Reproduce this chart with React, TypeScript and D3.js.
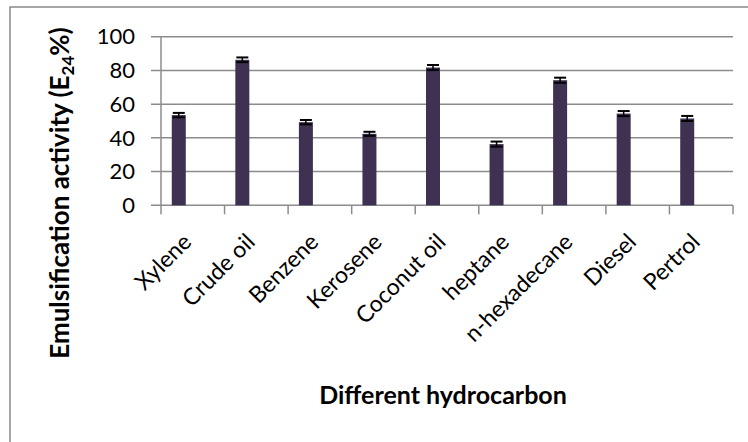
import React from "react";
import * as d3 from "d3";

const categories = ["Xylene", "Crude oil", "Benzene", "Kerosene", "Coconut oil", "heptane", "n-hexadecane", "Diesel", "Pertrol"];
const values = [53.5, 86.3, 49.3, 42.4, 81.7, 36.3, 74.2, 54.4, 51.5];
const errors = [1.3, 1.4, 1.3, 1.2, 1.5, 1.5, 1.5, 1.5, 1.5];
const seriesSlots = ["E24", "slot2", "slot3"];
const yTicks = [0, 20, 40, 60, 80, 100];

const W = 748;
const H = 442;
const FONT = "Lato, 'Open Sans', sans-serif";

export default function App() {
  const x0 = 161, x1 = 733, yTop = 36.7, yBot = 205.3;
  const x = d3.scaleBand<string>().domain(categories).range([x0, x1]).padding(0);
  const inner = d3.scaleBand<string>().domain(seriesSlots).range([0, x.bandwidth()]).paddingInner(0).paddingOuter(0.77);
  const y = d3.scaleLinear().domain([0, 100]).range([yBot, yTop]);
  const grid = "#8c8c8c";
  const barColor = "#3f3151";
  const capW = 12;
  const bounds = categories.map((c) => x(c) as number).concat([x1]);

  return (
    <svg width={W} height={H} style={{ position: "absolute", left: 0, top: 0, background: "#fff" }}>
      <rect x={0} y={0} width={W} height={H} fill="#fff" />
      <rect x={10} y={7} width={800} height={500} fill="none" stroke="#898989" strokeWidth={1.5} />
      {yTicks.map((t) => (
        <g key={t}>
          <line x1={x0 - 10} x2={x1} y1={y(t)} y2={y(t)} stroke={grid} strokeWidth={1.5} />
          <text x={135} y={y(t)} dy="0.35em" textAnchor="end" fontFamily={FONT} fontSize={22} fill="#000">
            {t}
          </text>
        </g>
      ))}
      <line x1={x0} x2={x0} y1={yTop} y2={yBot} stroke={grid} strokeWidth={1.5} />
      {bounds.map((b, i) => (
        <line key={i} x1={b} x2={b} y1={yBot} y2={yBot + 9} stroke={grid} strokeWidth={1.5} />
      ))}
      {categories.map((c, i) => {
        const bx = (x(c) as number) + (inner(seriesSlots[0]) as number);
        const bw = inner.bandwidth();
        const cx = bx + bw / 2;
        const v = values[i];
        const e = errors[i];
        return (
          <g key={c}>
            <rect x={bx} y={y(v)} width={bw} height={y(0) - y(v)} fill={barColor} />
            <line x1={cx} x2={cx} y1={y(v + e)} y2={y(v - e)} stroke="#000" strokeWidth={1.5} />
            <line x1={cx - capW / 2} x2={cx + capW / 2} y1={y(v + e)} y2={y(v + e)} stroke="#000" strokeWidth={2} />
            <line x1={cx - capW / 2} x2={cx + capW / 2} y1={y(v - e)} y2={y(v - e)} stroke="#000" strokeWidth={2} />
          </g>
        );
      })}
      {categories.map((c) => {
        const cx = (x(c) as number) + x.bandwidth() / 2;
        return (
          <text
            key={c}
            transform={`translate(${cx},${yBot + 38}) rotate(-45)`}
            textAnchor="end"
            fontFamily={FONT}
            fontSize={23}
            fill="#000"
          >
            {c}
          </text>
        );
      })}
      <text x={(x0 + x1) / 2 - 4} y={404} textAnchor="middle" fontFamily={FONT} fontWeight="bold" fontSize={25} fill="#000">
        Different hydrocarbon
      </text>
      <text
        transform={`translate(69,${(yTop + yBot) / 2 + 72}) rotate(-90)`}
        textAnchor="middle"
        fontFamily={FONT}
        fontWeight="bold"
        fontSize={26}
        fill="#000"
      >
        Emulsification activity (E
        <tspan fontSize={17} dy={5}>24</tspan>
        <tspan dy={-5}>%)</tspan>
      </text>
    </svg>
  );
}
